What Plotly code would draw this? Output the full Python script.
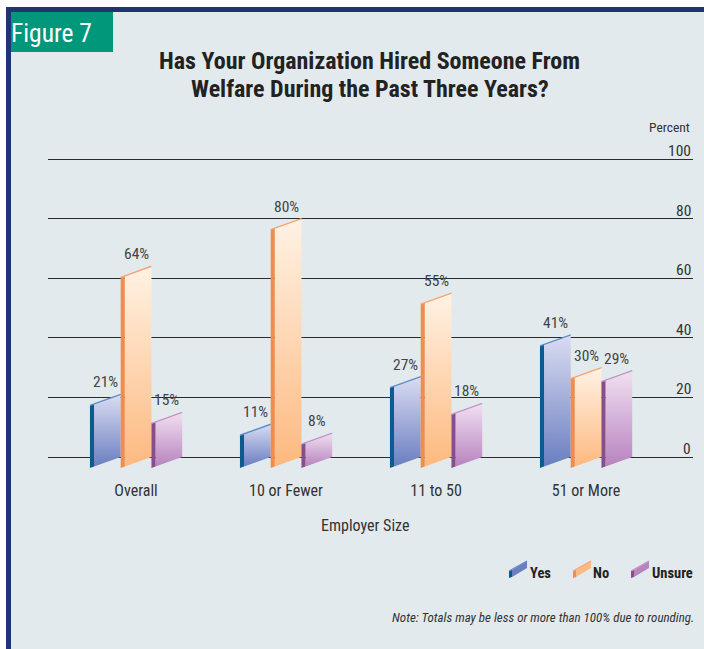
import plotly.graph_objects as go

# ---- data -------------------------------------------------------------
categories = ["Overall", "10 or Fewer", "11 to 50", "51 or More"]
series_names = ["Yes", "No", "Unsure"]
yes_vals = [21, 11, 27, 41]
no_vals = [64, 80, 55, 30]
unsure_vals = [15, 8, 18, 29]
y_ticks = [0, 20, 40, 60, 80, 100]

# ---- styling ----------------------------------------------------------
W, H = 704, 649
FONT = "Liberation Sans Narrow, Roboto Condensed, Arial Narrow, Liberation Sans, sans-serif"
BG = "#e2eaed"
NAVY = "#1f3572"
TEAL = "#00977b"
styles = {
    "Yes":    dict(top="#dadcf2", bottom="#6a7ec0", side="#0b5b8f", edge="#5b8fcb"),
    "No":     dict(top="#fff2e4", bottom="#fdb97f", side="#f28b4b", edge="#f7a375"),
    "Unsure": dict(top="#f1e0f1", bottom="#b883bf", side="#8a4d8b", edge="#c395c8"),
}
offsets = [-0.307, -0.102, 0.103]   # left edge of each bar relative to group centre
BAR_W = 0.205                       # full bar width (x units)
SIDE_W = 0.027                      # dark left side strip
SLANT = 3.7                         # drop of the left edge (y units)


def px(x):
    return x / W


def py(y):
    return 1 - y / H


fig = go.Figure()

series_vals = [yes_vals, no_vals, unsure_vals]
annotations = []
for s_idx, (name, vals) in enumerate(zip(series_names, series_vals)):
    st = styles[name]
    for c_idx, v in enumerate(vals):
        xl = c_idx + offsets[s_idx]
        xs = xl + SIDE_W
        xr = xl + BAR_W
        d_s = SLANT * (BAR_W - SIDE_W) / BAR_W
        # front face (slanted parallelogram with vertical gradient)
        fig.add_trace(go.Scatter(
            x=[xs, xr, xr, xs, xs], y=[-d_s, 0, v, v - d_s, -d_s],
            mode="lines", fill="toself", line=dict(width=0, color=st["bottom"]),
            fillgradient=dict(type="vertical",
                              colorscale=[[0, st["bottom"]], [1, st["top"]]]),
            hoverinfo="skip", showlegend=False))
        # dark side strip
        fig.add_trace(go.Scatter(
            x=[xl, xs, xs, xl, xl], y=[-SLANT, -d_s, v - d_s, v - SLANT, -SLANT],
            mode="lines", fill="toself", fillcolor=st["side"],
            line=dict(width=0, color=st["side"]),
            hoverinfo="skip", showlegend=False))
        # top edge highlight
        fig.add_trace(go.Scatter(
            x=[xl, xr], y=[v - SLANT, v], mode="lines",
            line=dict(width=1.4, color=st["edge"]),
            hoverinfo="skip", showlegend=False))
        annotations.append(dict(
            x=(xl + xr) / 2, y=v, xref="x", yref="y", text=f"{v}%",
            showarrow=False, yanchor="bottom", yshift=1,
            font=dict(family=FONT, size=15.5, color="#444444")))

# tick labels sit above each gridline on the right
for t in y_ticks:
    annotations.append(dict(
        x=1, y=t, xref="x domain", yref="y", text=str(t), showarrow=False,
        xanchor="right", yanchor="bottom", yshift=-3,
        font=dict(family=FONT, size=15.5, color="#333333")))

title_lines = ["Has Your Organization Hired Someone From",
               "Welfare During the Past Three Years?"]
for line, yy in zip(title_lines, [61, 89]):
    annotations.append(dict(
        x=px(370), y=py(yy), xref="paper", yref="paper", text=f"<b>{line}</b>",
        showarrow=False, xanchor="center", yanchor="middle",
        font=dict(family=FONT, size=24, color="#222222")))

annotations += [
    dict(x=px(692), y=py(127), xref="paper", yref="paper", text="Percent",
         showarrow=False, xanchor="right", yanchor="middle",
         font=dict(family=FONT, size=13.5, color="#333333")),
    dict(x=px(9), y=py(33), xref="paper", yref="paper", text="Figure 7",
         showarrow=False, xanchor="left", yanchor="middle",
         font=dict(family=FONT, size=25.5, color="white")),
    dict(x=px(365), y=py(525), xref="paper", yref="paper", text="Employer Size",
         showarrow=False, xanchor="center", yanchor="middle",
         font=dict(family=FONT, size=16, color="#333333")),
    dict(x=px(696), y=py(617), xref="paper", yref="paper",
         text="<i>Note: Totals may be less or more than 100% due to rounding.</i>",
         showarrow=False, xanchor="right", yanchor="middle",
         font=dict(family=FONT, size=13, color="#333333")),
]

shapes = [
    # panel background and navy frame
    dict(type="rect", xref="paper", yref="paper", x0=px(6), x1=1.0, y0=0, y1=py(7),
         fillcolor=BG, line=dict(width=0), layer="below"),
    dict(type="rect", xref="paper", yref="paper", x0=px(6), x1=px(11), y0=0, y1=py(7),
         fillcolor=NAVY, line=dict(width=0), layer="below"),
    dict(type="rect", xref="paper", yref="paper", x0=px(6), x1=1.0, y0=py(12), y1=py(7),
         fillcolor=NAVY, line=dict(width=0), layer="below"),
    dict(type="rect", xref="paper", yref="paper", x0=px(11), x1=px(113), y0=py(52), y1=py(12),
         fillcolor=TEAL, line=dict(width=0), layer="below"),
]

# legend: small slanted bar swatches with labels
legend_items = [("Yes", 509, 540), ("No", 573, 601), ("Unsure", 631, 672)]
for name, sx, tx in legend_items:
    st = styles[name]
    face = (f"M {px(sx + 3)} {py(577)} L {px(sx + 18)} {py(568)} "
            f"L {px(sx + 18)} {py(561)} L {px(sx + 3)} {py(570)} Z")
    side = (f"M {px(sx)} {py(578)} L {px(sx + 3)} {py(577)} "
            f"L {px(sx + 3)} {py(570)} L {px(sx)} {py(571)} Z")
    edge = f"M {px(sx)} {py(571)} L {px(sx + 18)} {py(561)}"
    shapes += [
        dict(type="path", xref="paper", yref="paper", path=face,
             fillcolor=st["bottom"], line=dict(width=0)),
        dict(type="path", xref="paper", yref="paper", path=side,
             fillcolor=st["side"], line=dict(width=0)),
        dict(type="path", xref="paper", yref="paper", path=edge,
             line=dict(width=1.2, color=st["edge"])),
    ]
    annotations.append(dict(
        x=px(tx), y=py(573), xref="paper", yref="paper", text=f"<b>{name}</b>",
        showarrow=False, xanchor="center", yanchor="middle",
        font=dict(family=FONT, size=14.5, color="#222222")))

fig.update_layout(
    width=W, height=H, margin=dict(l=0, r=0, t=0, b=0),
    paper_bgcolor="white", plot_bgcolor="rgba(0,0,0,0)",
    showlegend=False, shapes=shapes, annotations=annotations,
    xaxis=dict(domain=[px(48), px(693)], range=[-0.5867, 3.7133],
               tickmode="array", tickvals=list(range(len(categories))),
               ticktext=categories, showgrid=False, zeroline=False,
               showline=False, ticks="", ticklabelstandoff=-2,
               tickfont=dict(family=FONT, size=16, color="#333333")),
    yaxis=dict(domain=[py(480.84), py(135.16)], range=[-8, 108],
               tickmode="array", tickvals=y_ticks, showticklabels=False,
               showgrid=True, gridcolor="#2b2b2b", gridwidth=1.2,
               zeroline=False, showline=False, ticks=""),
)

fig.write_html("out.html")
